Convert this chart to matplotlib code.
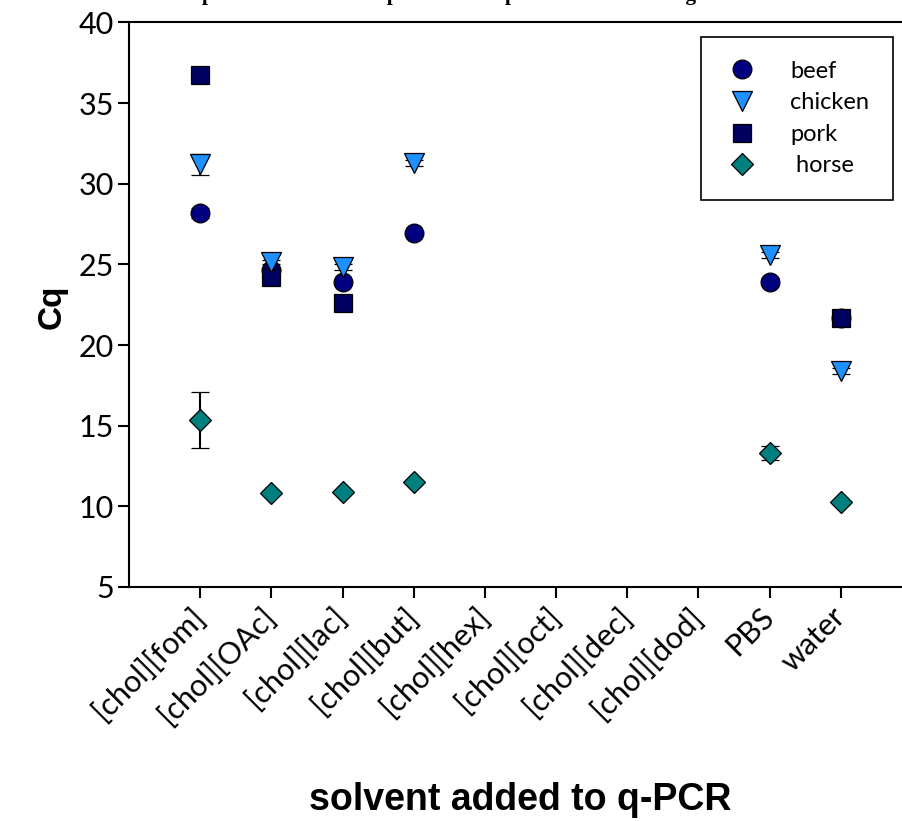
import matplotlib
matplotlib.use("Agg")
import matplotlib.pyplot as plt
import numpy as np

nan = np.nan

# Solvents on the x axis
solvents = ['[chol][fom]', '[chol][OAc]', '[chol][lac]', '[chol][but]', '[chol][hex]',
            '[chol][oct]', '[chol][dec]', '[chol][dod]', 'PBS', 'water']

# Cq values (nan = no point drawn)
beef = [28.2, 24.65, 23.9, 26.95, nan, nan, nan, nan, 23.9, 21.7]
beef_err = [0.3, 0.15, 0.15, 0.15, nan, nan, nan, nan, 0.25, 0.2]
chicken = [31.2, 25.15, 24.85, 31.3, nan, nan, nan, nan, 25.6, 18.4]
chicken_err = [0.65, 0.15, 0.2, 0.2, nan, nan, nan, nan, 0.2, 0.2]
pork = [36.75, 24.2, 22.6, nan, nan, nan, nan, nan, nan, 21.7]
pork_err = [0.2, 0.1, 0.1, nan, nan, nan, nan, nan, nan, 0.3]
horse = [15.35, 10.85, 10.9, 11.5, nan, nan, nan, nan, 13.3, 10.25]
horse_err = [1.75, 0.1, 0.1, 0.1, nan, nan, nan, nan, 0.45, 0.1]

W, H = 903, 821
fig = plt.figure(figsize=(W / 100, H / 100), dpi=100)
# axes runs past the right edge of the picture, like the cropped original
ax = fig.add_axes([129 / W, 234 / H, 783 / W, 564.5 / H])

x = np.arange(1, len(solvents) + 1)

# label, values, errors, marker, size, colour, zorder
series = [
    ('beef', beef, beef_err, 'o', 13.5, '#000080', 3),
    ('chicken', chicken, chicken_err, 'v', 14, '#1E90FF', 5),
    ('pork', pork, pork_err, 's', 13, '#000060', 4),
    (' horse', horse, horse_err, 'D', 11, '#007F7F', 6),
]

handles = []
labels = []
for label, vals, errs, mk, ms, col, z in series:
    h = ax.errorbar(x, vals, yerr=errs, fmt=mk, ms=ms, mfc=col, mec='black', mew=0.9,
                    ecolor='black', elinewidth=1.5, capsize=6.5, capthick=1.5,
                    label=label, zorder=z)
    handles.append(h[0])
    labels.append(label)

ax.set_xlim(0, 11)
ax.set_ylim(5, 40)
ax.set_yticks(np.arange(5, 41, 5))
ax.set_xticks(x)
ax.set_xticklabels(solvents, rotation=45, ha='right', va='center',
                   rotation_mode='anchor', family='Lato', fontsize=22)
for t in ax.get_yticklabels():
    t.set_family('Lato')
    t.set_fontsize(22)
ax.tick_params(axis='both', direction='out', length=8, width=1.5)
ax.tick_params(axis='y', pad=3)
ax.tick_params(axis='x', pad=10)
for s in ax.spines.values():
    s.set_linewidth(1.5)

fig.text(52 / W, 1 - 307 / H, 'Cq', rotation=90, ha='center', va='center',
         family='Liberation Sans', weight='bold', fontsize=24)
fig.text(520 / W, 1 - 810 / H, 'solvent added to q-PCR', ha='center', va='baseline',
         family='Liberation Sans', weight='bold', fontsize=27)
# title sits mostly above the top edge, only descenders show
fig.text(176 / W, 1.0, 'Impact of choline ILs upon DNA amplification of the target meats',
         ha='left', va='baseline', family='Liberation Serif', weight='bold', fontsize=15.3)

leg = ax.legend(handles, labels, loc='upper right',
                bbox_to_anchor=(893 / W, 1 - 37 / H), bbox_transform=fig.transFigure,
                borderaxespad=0, fancybox=False, framealpha=1, edgecolor='black',
                prop={'family': 'Lato', 'size': 17}, labelspacing=0.45,
                handletextpad=1.3, borderpad=1.0, handlelength=1.5)
leg.get_frame().set_linewidth(1.2)
leg.set_zorder(10)

fig.savefig('out.png', dpi=100)
